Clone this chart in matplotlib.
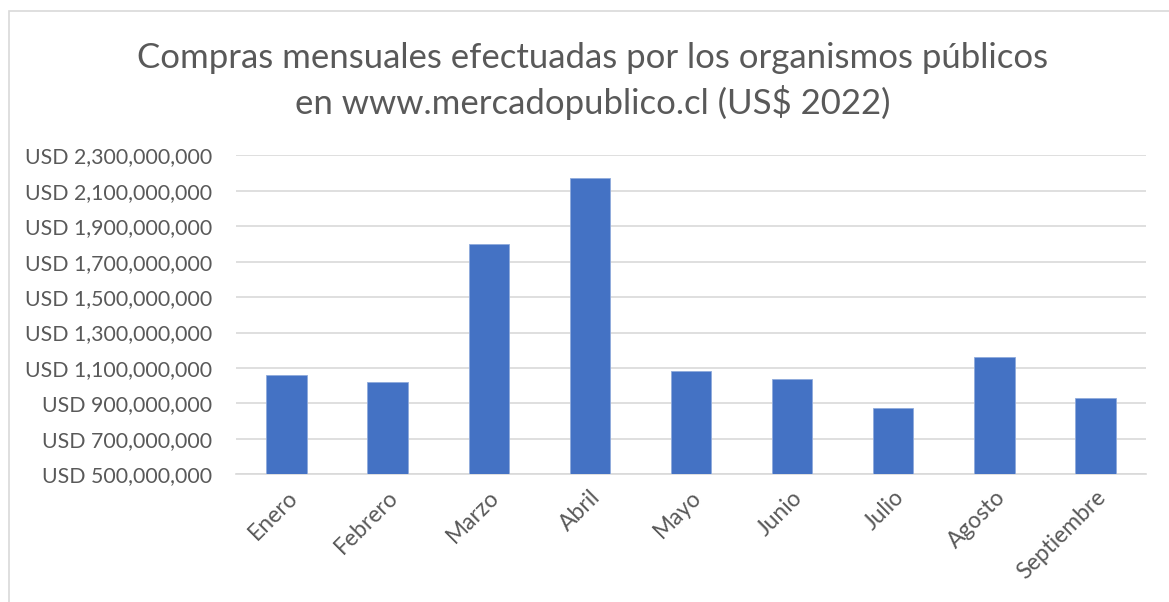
import matplotlib
matplotlib.use("Agg")
import matplotlib.pyplot as plt
from matplotlib.ticker import FuncFormatter
from matplotlib.patches import Rectangle

# datos (USD)
meses = ["Enero", "Febrero", "Marzo", "Abril", "Mayo", "Junio",
         "Julio", "Agosto", "Septiembre"]
compras = [1062e6, 1021e6, 1800e6, 2172e6, 1083e6, 1036e6,
           872e6, 1164e6, 929e6]
marcas_y = [500e6, 700e6, 900e6, 1100e6, 1300e6, 1500e6, 1700e6,
            1900e6, 2100e6, 2300e6]

gris = "#595959"
plt.rcParams["font.family"] = ["Lato", "DejaVu Sans"]

fig = plt.figure(figsize=(11.69, 6.02), dpi=100)
ax = fig.add_axes([236 / 1169, 1 - 474.3 / 602, 910 / 1169, 319 / 602])

# borde del área del gráfico
fig.patches.append(Rectangle((9 / 1169, -0.1), 1.2, 1 - 11 / 602 + 0.1,
                             transform=fig.transFigure, fill=False,
                             edgecolor="#d9d9d9", linewidth=1.2))

x = range(len(meses))
ax.bar(x, compras, width=0.4, color="#4472C4", edgecolor="#8faadc",
       linewidth=0.6, zorder=3)

ax.set_xlim(-0.5, len(meses) - 0.5)
ax.set_ylim(marcas_y[0], marcas_y[-1])
ax.set_yticks(marcas_y)
ax.yaxis.set_major_formatter(FuncFormatter(lambda v, p: f"USD {v:,.0f}"))
ax.grid(axis="y", color="#d9d9d9", linewidth=1.2, zorder=0)

for s in ["top", "right", "left"]:
    ax.spines[s].set_visible(False)
ax.spines["bottom"].set_color("#d9d9d9")
ax.spines["bottom"].set_linewidth(1.2)

ax.set_xticks(list(x))
ax.set_xticklabels(meses, rotation=45, ha="right", rotation_mode="anchor")
ax.tick_params(axis="both", length=0, colors=gris)
ax.tick_params(axis="y", pad=17, labelsize=15.3)
ax.tick_params(axis="x", pad=9, labelsize=16.5)

fig.text(593 / 1169, 1 - 58 / 602,
         "Compras mensuales efectuadas por los organismos públicos",
         ha="center", va="center", fontsize=25, color=gris)
fig.text(593 / 1169, 1 - 103 / 602,
         "en www.mercadopublico.cl (US$ 2022)",
         ha="center", va="center", fontsize=25, color=gris)

fig.savefig("out.png", dpi=100, facecolor="white")
